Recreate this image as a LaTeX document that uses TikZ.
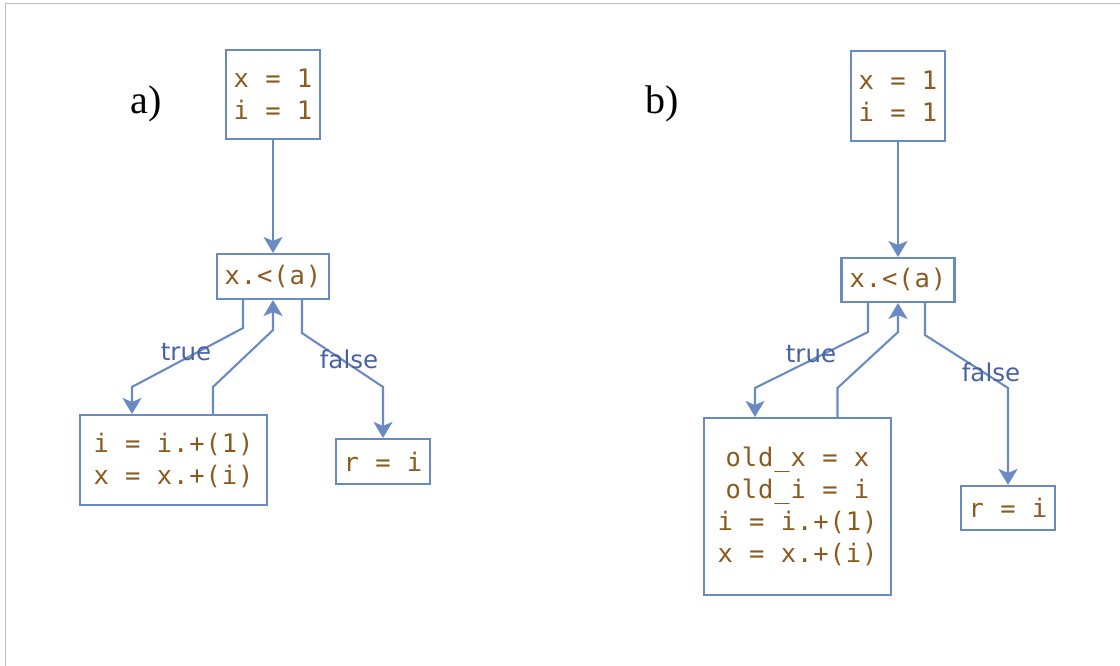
\documentclass[tikz,border=0pt]{standalone}
\usepackage{fontspec}
\setmainfont{Liberation Serif}
\newfontfamily\codefont[LetterSpace=3.5]{DejaVu Sans Mono}
\newfontfamily\lblfont{DejaVu Sans}
\usetikzlibrary{arrows.meta}
\definecolor{edgeblue}{RGB}{106,138,196}
\definecolor{codebrown}{RGB}{139,90,31}
\definecolor{lblblue}{RGB}{72,98,160}
\definecolor{framegrey}{RGB}{190,190,190}
\tikzset{
  codebox/.style={draw=edgeblue, line width=2.1pt, inner sep=0pt, text=codebrown,
    font=\codefont\fontsize{25.5}{32}\selectfont, align=center},
  conn/.style={draw=edgeblue, line width=2.1pt, -{Stealth[length=16pt,width=19pt,inset=4pt]}},
  lbl/.style={text=lblblue, font=\lblfont\fontsize{24.5}{30}\selectfont, inner sep=0pt},
  panel/.style={font=\fontsize{40}{44}\selectfont, inner sep=0pt}
}
\begin{document}
\begin{tikzpicture}[x=1pt,y=-1pt]
\useasboundingbox (0,0) rectangle (1120,666);
\draw[framegrey, line width=1.5pt] (5.5,666) -- (5.5,3.5) -- (1120,3.5);

% ---------- a) ----------
\node[panel] (pa) at (146,104) {a)};
\node[codebox, minimum width=94pt, minimum height=89pt] (a1) at (273,94.5) {x = 1\\i = 1};
\node[codebox, minimum width=112pt, minimum height=45pt] (ca) at (273,276.5) {x.<(a)};
\node[codebox, minimum width=187pt, minimum height=90pt] (ba) at (173.5,460) {i = i.+(1)\\x = x.+(i)};
\node[codebox, minimum width=94pt, minimum height=45pt] (ra) at (383,461.5) {r = i};

\draw[conn] (a1.south) -- (ca.north);
\draw[conn] ([xshift=-30pt]ca.south) -- ++(0,28) -- ([xshift=-41.5pt,yshift=27pt]ba.north) -- ([xshift=-41.5pt]ba.north);
\draw[conn] ([xshift=39.5pt]ba.north) -- ++(0,-27) -- ([yshift=-30pt]ca.south) -- (ca.south);
\draw[conn] ([xshift=29pt]ca.south) -- ++(0,33) -- ([yshift=51pt]ra.north) -- (ra.north);
\node[lbl] (ta) at (186,352) {true};
\node[lbl] (fa) at (349,359) {false};

% ---------- b) ----------
\node[panel] (pb) at (662,104) {b)};
\node[codebox, minimum width=94pt, minimum height=90pt] (b1) at (898,96) {x = 1\\i = 1};
\node[codebox, minimum width=113pt, minimum height=44pt] (cb) at (898,280) {x.<(a)};
\node[codebox, minimum width=187pt, minimum height=177pt] (bb) at (797.5,506.5) {old\_x = x\\old\_i = i\\i = i.+(1)\\x = x.+(i)};
\node[codebox, minimum width=94pt, minimum height=44pt] (rb) at (1008,508) {r = i};

\draw[conn] (b1.south) -- (cb.north);
\draw[conn] ([xshift=-30pt]cb.south) -- ++(0,29) -- ([xshift=-42.5pt,yshift=29pt]bb.north) -- ([xshift=-42.5pt]bb.north);
\draw[conn] ([xshift=40pt]bb.north) -- ++(0,-29) -- ([yshift=-29pt]cb.south) -- (cb.south);
\draw[conn] ([xshift=27pt]cb.south) -- ++(0,32) -- ([yshift=97pt]rb.north) -- (rb.north);
\node[lbl] (tb) at (811,354) {true};
\node[lbl] (fb) at (991,372) {false};
\end{tikzpicture}
\end{document}
